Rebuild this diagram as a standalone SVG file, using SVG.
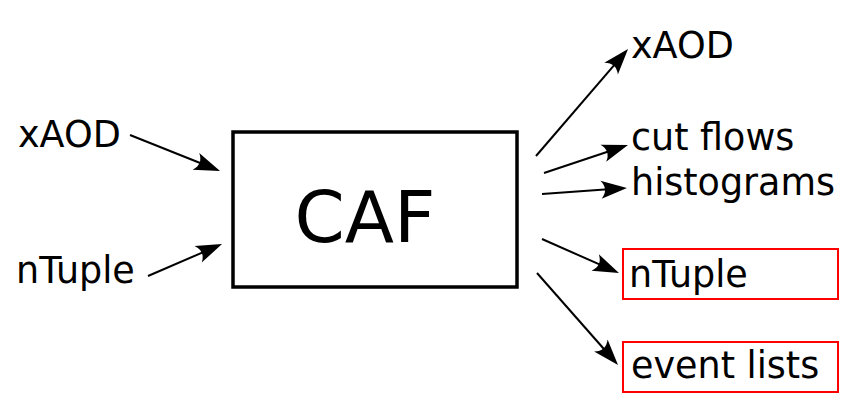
<svg xmlns="http://www.w3.org/2000/svg" width="860" height="418" viewBox="0 0 860 418">
<style>
.t{font-family:"DejaVu Sans",sans-serif;font-size:36.5px;fill:#000}
.c{stroke:#000;stroke-width:2;fill:none}
.r{fill:none;stroke:#ff0000;stroke-width:2}
</style>
<defs>
<marker id="ah" markerUnits="userSpaceOnUse" orient="auto" refX="0" refY="0" markerWidth="30" markerHeight="20" viewBox="-12 -10 26 20" overflow="visible">
<path d="M12,0 L-14,-9 Q-6,0 -14,9 Z" fill="#000"/>
</marker>
</defs>
<rect width="860" height="418" fill="#fff"/>
<g id="connectors">
<line class="c" x1="130" y1="135" x2="208.9" y2="166.5" marker-end="url(#ah)"/>
<line class="c" x1="148" y1="276" x2="211.0" y2="248.8" marker-end="url(#ah)"/>
<line class="c" x1="536" y1="156" x2="620.2" y2="58.1" marker-end="url(#ah)"/>
<line class="c" x1="544" y1="173" x2="616.6" y2="148.8" marker-end="url(#ah)"/>
<line class="c" x1="542" y1="194" x2="615.0" y2="188.8" marker-end="url(#ah)"/>
<line class="c" x1="542" y1="239" x2="608.0" y2="268.2" marker-end="url(#ah)"/>
<line class="c" x1="537" y1="273" x2="610.1" y2="356.0" marker-end="url(#ah)"/>
</g>
<g id="caf">
<rect x="233" y="132" width="284" height="155" fill="#fff" stroke="#000" stroke-width="3.5"/>
<text x="365" y="242" text-anchor="middle" font-family="DejaVu Sans, sans-serif" font-size="72">CAF</text>
</g>
<g id="in-xaod"><text class="t" x="18" y="147">xAOD</text></g>
<g id="in-ntuple"><text class="t" x="16" y="283">nTuple</text></g>
<g id="out-xaod"><text class="t" x="631" y="58">xAOD</text></g>
<g id="out-cutflows"><text class="t" x="631" y="150">cut flows</text></g>
<g id="out-histograms"><text class="t" x="631" y="195">histograms</text></g>
<g id="out-ntuple">
<rect class="r" x="623" y="249" width="215" height="50"/>
<text class="t" x="629" y="287">nTuple</text>
</g>
<g id="out-eventlists">
<rect class="r" x="623" y="342" width="215" height="50"/>
<text class="t" x="631" y="378">event lists</text>
</g>
</svg>
